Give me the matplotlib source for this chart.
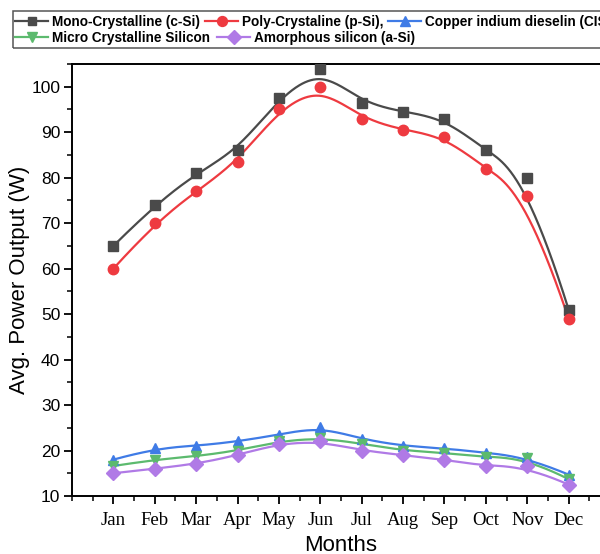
import numpy as np
import matplotlib
matplotlib.use("Agg")
import matplotlib.pyplot as plt
from matplotlib.ticker import MultipleLocator, FixedLocator
from matplotlib.patches import Rectangle
from matplotlib.lines import Line2D

months = ["Jan", "Feb", "Mar", "Apr", "May", "Jun", "Jul", "Aug", "Sep", "Oct", "Nov", "Dec"]
mono = [65, 74, 81, 86, 97.5, 104, 96.5, 94.5, 93, 86, 80, 51]
poly = [60, 70, 77, 83.5, 95, 100, 93, 90.5, 89, 82, 76, 49]
cis = [18, 20.5, 21, 22, 23.5, 25.2, 22.5, 21, 20.5, 19.5, 18.5, 14.7]
micro = [16.6, 18, 18.7, 20, 22, 22.8, 21.5, 20, 19.5, 18.5, 18.3, 13.7]
amorph = [15, 16, 17, 19, 21.5, 22, 20, 19, 18, 16.5, 16.5, 12.5]

labels = ["Mono-Crystalline (c-Si)", "Poly-Crystaline (p-Si),", "Copper indium dieselin (CIS)",
          "Micro Crystalline Silicon", "Amorphous silicon (a-Si)"]
colors = ["#4a4a4a", "#ee3a40", "#3f7be6", "#5cba6e", "#b07ae6"]
markers = ["s", "o", "^", "v", "D"]
msizes = [6.8, 7.5, 7.5, 7.5, 7.0]


def bspline(px, py, k=3, num=400):
    P = np.column_stack([px, py]).astype(float)
    n = len(P)
    knots = np.concatenate([np.zeros(k), np.arange(n - k + 1), np.full(k, n - k)]).astype(float)
    ts = np.linspace(0, n - k, num)
    out = []
    for t in ts:
        if t >= knots[-1]:
            s = n - 1
        else:
            s = np.searchsorted(knots, t, side="right") - 1
        d = [P[j + s - k].copy() for j in range(k + 1)]
        for r in range(1, k + 1):
            for j in range(k, r - 1, -1):
                i = j + s - k
                denom = knots[i + k + 1 - r] - knots[i]
                a = 0.0 if denom == 0 else (t - knots[i]) / denom
                d[j] = (1 - a) * d[j - 1] + a * d[j]
        out.append(d[k])
    out = np.array(out)
    return out[:, 0], out[:, 1]


W, H = 600, 554
fig = plt.figure(figsize=(W / 100, H / 100), dpi=100)
ax = fig.add_axes([72 / W, 58 / H, 538 / W, 432 / H])

x = np.arange(1, 13)
series = [mono, poly, cis, micro, amorph]
for s, c, m, ms in zip(series, colors, markers, msizes):
    sx, sy = bspline(x, s)
    ax.plot(sx, sy, color=c, lw=1.6, zorder=2)
    ax.plot(x, s, linestyle="none", marker=m, color=c, markersize=ms, zorder=3)

ax.set_xlim(0, 13)
ax.set_ylim(10, 105)
ax.xaxis.set_major_locator(FixedLocator(x))
ax.set_xticklabels(months)
ax.xaxis.set_minor_locator(MultipleLocator(0.5))
ax.yaxis.set_major_locator(MultipleLocator(10))
ax.yaxis.set_minor_locator(MultipleLocator(5))
ax.tick_params(which="major", direction="out", length=5.5, width=1.3)
ax.tick_params(which="minor", direction="out", length=3.3, width=1.1)
ax.tick_params(axis="x", labelsize=13.5, pad=6)
ax.tick_params(axis="y", labelsize=12.5, pad=3)
for lab in ax.get_xticklabels():
    lab.set_fontfamily("Liberation Serif")
for lab in ax.get_yticklabels():
    lab.set_fontfamily("Liberation Sans")
for sp in ["left", "bottom", "top", "right"]:
    ax.spines[sp].set_linewidth(1.4)

ax.set_xlabel("Months", fontsize=16, family="Liberation Sans", labelpad=4)
ax.set_ylabel("Avg. Power Output (W)", fontsize=16, family="Liberation Sans", labelpad=0.5)

handles = [Line2D([], [], color=c, marker=m, markersize=ms * 0.95, lw=1.6)
           for c, m, ms in zip(colors, markers, msizes)]
pos = [(15, 22), (205, 22), (388, 22), (15, 38), (217, 38)]
for h, lab, (px, py) in zip(handles, labels, pos):
    fig.legend([h], [lab], loc="center left", bbox_to_anchor=(px / W, 1 - py / H),
               frameon=False, handlelength=2.45, handletextpad=0.3,
               borderaxespad=0, borderpad=0,
               prop={"family": "Liberation Sans", "weight": "bold", "size": 9.8})
fig.patches.append(Rectangle((13 / W, 1 - 48 / H), 1.0, 37 / H,
                             transform=fig.transFigure, fill=False, edgecolor="#555555", lw=1.1))

fig.savefig("out.png", dpi=100)
